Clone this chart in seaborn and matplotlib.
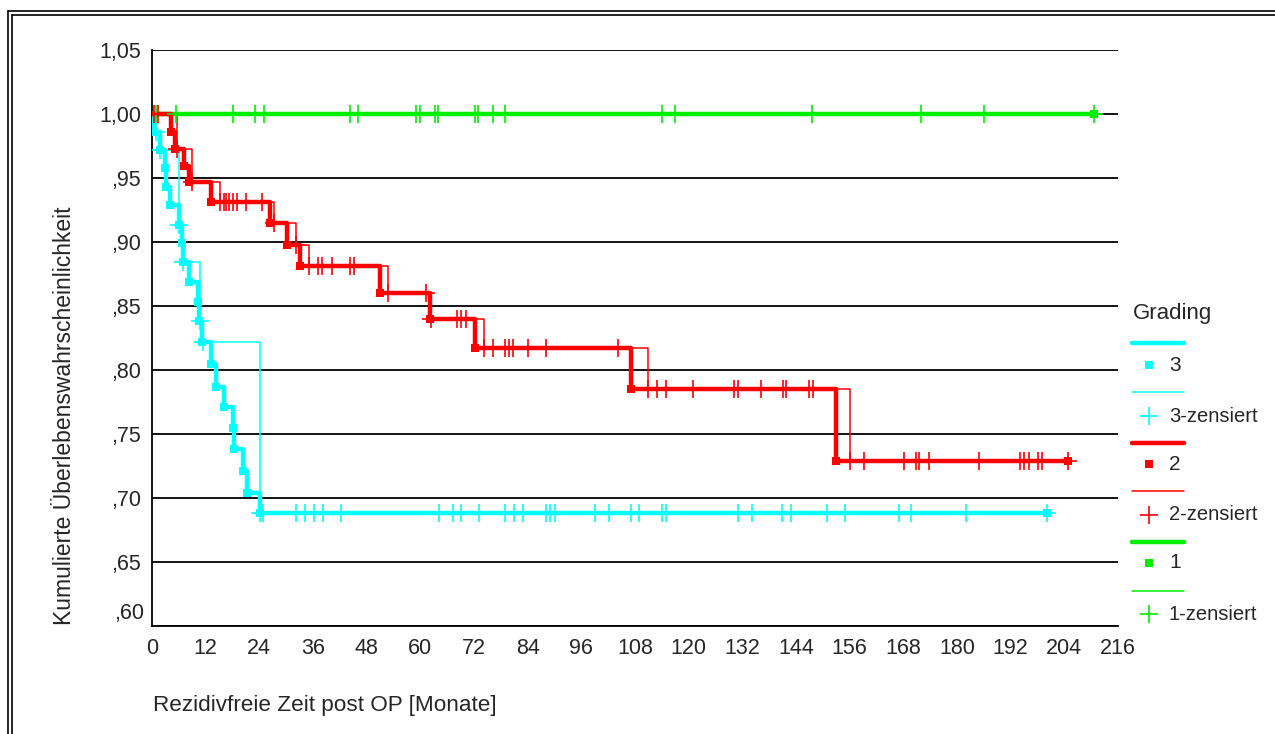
import matplotlib.pyplot as plt
from matplotlib.lines import Line2D
import seaborn as sns
import pandas as pd

# Grading 3 (cyan): event times / survival after the event
G3_EVENT_T = [0.5, 1.8, 2.9, 3.2, 4.0, 6.0, 6.7, 6.9, 8.3, 10.3, 10.6, 11.1,
              13.2, 14.3, 16.2, 18.0, 18.3, 20.3, 21.2, 24.1]
G3_EVENT_S = [0.986, 0.972, 0.958, 0.943, 0.929, 0.913, 0.899, 0.884, 0.869,
              0.853, 0.838, 0.822, 0.805, 0.787, 0.771, 0.755, 0.738, 0.721,
              0.704, 0.688]
G3_CENS_T = [0.8, 1.9, 6.1, 7.0, 10.8, 11.3, 24.2, 24.9, 32.2, 34.2, 36.2,
             38.2, 42.2, 64.2, 67.2, 69.2, 73.2, 78.9, 80.9, 83.0, 88.1, 89.0,
             90.0, 99.1, 102.2, 107.2, 108.9, 114.1, 115.0, 131.1, 134.1,
             140.8, 142.8, 150.9, 155.0, 167.1, 169.7, 182.0, 200.1]

# Grading 2 (red)
G2_EVENT_T = [4.2, 5.1, 7.2, 8.3, 13.2, 26.4, 30.1, 33.1, 51.0, 62.2, 72.2,
              107.1, 153.0]
G2_EVENT_S = [0.986, 0.973, 0.959, 0.947, 0.931, 0.915, 0.898, 0.881, 0.860,
              0.840, 0.817, 0.785, 0.729]
G2_CENS_T = [0.5, 1.3, 5.6, 8.9, 15.2, 16.0, 16.6, 17.3, 18.1, 19.0, 21.0,
             24.6, 27.2, 32.2, 35.1, 37.1, 38.0, 40.2, 44.3, 45.2, 52.8, 61.3,
             62.4, 68.1, 69.2, 70.2, 74.2, 76.2, 78.9, 79.9, 80.8, 84.0, 88.0,
             104.3, 111.0, 113.0, 114.9, 121.0, 130.2, 131.0, 136.2, 141.0,
             141.8, 147.0, 147.8, 156.1, 159.1, 168.2, 170.8, 171.6, 173.8,
             185.0, 194.1, 195.0, 196.1, 198.2, 199.1, 204.9]

# Grading 1 (green): no events
G1_EVENT_T = []
G1_EVENT_S = []
G1_CENS_T = [1.0, 5.3, 18.0, 23.0, 25.0, 44.2, 46.1, 59.0, 60.0, 63.2, 63.9,
             72.3, 73.0, 76.2, 78.9, 114.1, 116.9, 147.6, 172.0, 186.0, 210.6]

COLORS = {'3': '#00ffff', '2': '#ff0000', '1': '#00ee00'}

X_TICKS = list(range(0, 217, 12))
Y_TICKS = [0.60, 0.65, 0.70, 0.75, 0.80, 0.85, 0.90, 0.95, 1.00, 1.05]
Y_LABELS = ['', ',65', ',70', ',75', ',80', ',85', ',90', ',95', '1,00', '1,05']

W, H = 1275, 734


def km_at(t, ev_t, ev_s):
    s = 1.0
    for et, es in zip(ev_t, ev_s):
        if et <= t:
            s = es
    return s


def build(ev_t, ev_s, cens_t):
    cens_s = [km_at(t, ev_t, ev_s) for t in cens_t]
    end_t = cens_t[-1]
    end_s = cens_s[-1]
    curve = pd.DataFrame({'t': [0.0] + ev_t + [end_t],
                          'S': [1.0] + ev_s + [end_s]})
    marks = pd.DataFrame({'t': ev_t + [end_t], 'S': ev_s + [end_s]})
    cens = pd.DataFrame({'t': cens_t, 'S': cens_s})
    return curve, marks, cens


sns.set_style('white')
plt.rcParams['font.family'] = ['Liberation Sans', 'DejaVu Sans']

fig = plt.figure(figsize=(W / 100, H / 100), dpi=100)
ax = fig.add_axes([152 / W, 1 - 626 / H, (1118 - 152) / W, (626 - 50) / H])

data = {'3': build(G3_EVENT_T, G3_EVENT_S, G3_CENS_T),
        '2': build(G2_EVENT_T, G2_EVENT_S, G2_CENS_T),
        '1': build(G1_EVENT_T, G1_EVENT_S, G1_CENS_T)}

for g in ['3', '1', '2']:
    curve, marks, cens = data[g]
    c = COLORS[g]
    sns.lineplot(data=curve, x='t', y='S', ax=ax, color=c, lw=3.2,
                 drawstyle='steps-post', estimator=None, sort=False, zorder=4)
    sns.lineplot(data=cens, x='t', y='S', ax=ax, color=c, lw=1.1,
                 drawstyle='steps-post', estimator=None, sort=False, zorder=4)
    sns.scatterplot(data=marks, x='t', y='S', ax=ax, color=c, marker='s',
                    s=32, linewidth=0, zorder=5)
    sns.scatterplot(data=cens, x='t', y='S', ax=ax, color=c, marker='+',
                    s=170, linewidth=1.2, zorder=5)

ax.set_xlim(0, 216)
ax.set_ylim(0.60, 1.05)
ax.set_xticks(X_TICKS)
ax.set_xticklabels([str(x) for x in X_TICKS])
ax.set_yticks(Y_TICKS)
ax.set_yticklabels(Y_LABELS)
ax.annotate(',60', xy=(0, 0.60), xycoords=('axes fraction', 'data'),
            xytext=(-8, 12), textcoords='offset pixels', ha='right',
            va='center', fontsize=15.5)
ax.tick_params(axis='both', direction='out', length=3, width=2.5,
               color='black', labelsize=15.5, pad=5)
ax.tick_params(axis='x', pad=6)
ax.yaxis.grid(True, color='black', lw=1.3, zorder=1)
ax.xaxis.grid(False)
for side in ['top', 'right']:
    ax.spines[side].set_visible(False)
for side in ['left', 'bottom']:
    ax.spines[side].set_color('black')
    ax.spines[side].set_linewidth(1.3)
ax.set_xlabel('')
ax.set_ylabel('')

fig.text(65 / W, 1 - 416 / H, 'Kumulierte Überlebenswahrscheinlichkeit',
         rotation=90, ha='center', va='center', fontsize=16.5)
fig.text(153 / W, 1 - 706 / H, 'Rezidivfreie Zeit post OP [Monate]',
         ha='left', va='center', fontsize=16.2)


# legend, drawn by hand in pixel positions
def fx(px):
    return px / W


def fy(py):
    return 1 - py / H


fig.text(fx(1133), fy(314), 'Grading', ha='left', va='center', fontsize=16)
legend_rows = [('3', 343, 365, 392, 416),
               ('2', 443, 464, 491, 515),
               ('1', 542, 563, 591, 614)]
for g, y_thick, y_sq, y_thin, y_cross in legend_rows:
    c = COLORS[g]
    fig.add_artist(Line2D([fx(1132), fx(1184)], [fy(y_thick)] * 2,
                          color=c, lw=3.2, transform=fig.transFigure))
    fig.add_artist(Line2D([fx(1149)], [fy(y_sq)], marker='s', ms=5.5,
                          mew=0, color=c, transform=fig.transFigure))
    fig.text(fx(1169), fy(y_sq), g, ha='left', va='center', fontsize=15)
    fig.add_artist(Line2D([fx(1132), fx(1184)], [fy(y_thin)] * 2,
                          color=c, lw=1.1, transform=fig.transFigure))
    fig.add_artist(Line2D([fx(1149)], [fy(y_cross)], marker='+', ms=13,
                          mew=1.2, color=c, transform=fig.transFigure))
    fig.text(fx(1169), fy(y_cross), g + '-zensiert', ha='left', va='center',
             fontsize=14.5)

# double frame at left/top
for off in (8, 12):
    fig.add_artist(Line2D([fx(off), fx(off)], [0, fy(off + 3)], color='black',
                          lw=1.2, transform=fig.transFigure))
    fig.add_artist(Line2D([fx(off), 1], [fy(off + 3)] * 2, color='black',
                          lw=1.2, transform=fig.transFigure))

fig.savefig('out.png', dpi=100)
plt.close(fig)
